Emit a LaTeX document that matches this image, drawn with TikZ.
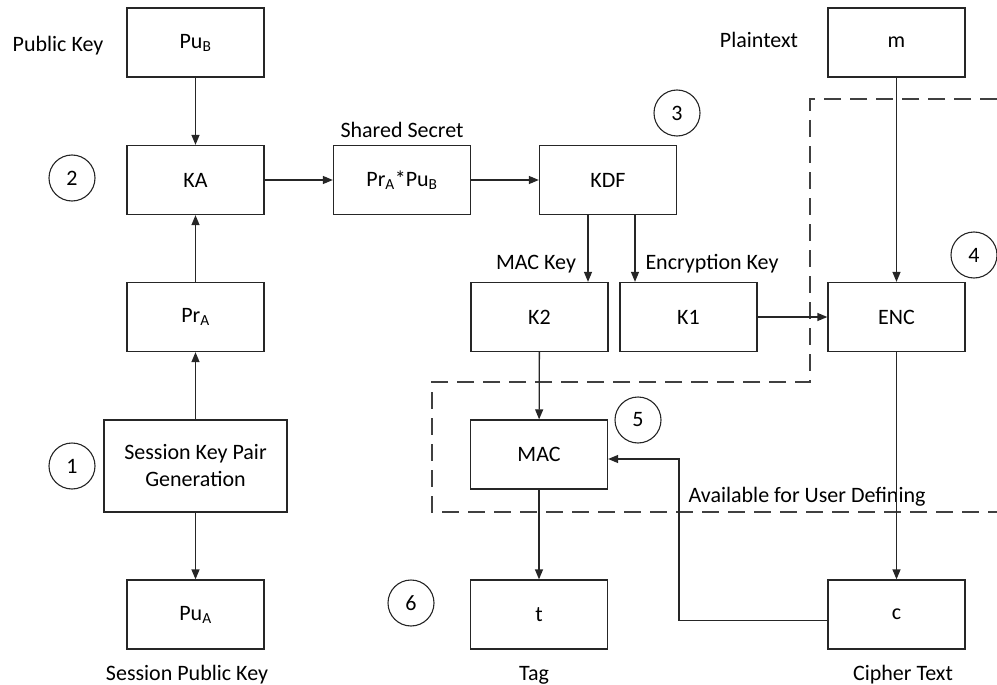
\documentclass[tikz,border=0pt]{standalone}
\usepackage{fontspec}
\setmainfont{Carlito}
\usetikzlibrary{arrows.meta}
\begin{document}
\begin{tikzpicture}[x=1pt,y=-1pt,
  box/.style={draw=black!85,line width=1.3pt,minimum width=137pt,minimum height=69pt,inner sep=0pt,align=center,font=\fontsize{22}{27}\selectfont},
  lbl/.style={inner sep=0pt,font=\fontsize{22}{27}\selectfont},
  num/.style={draw=black!85,line width=1.1pt,circle,minimum size=46pt,inner sep=0pt,font=\fontsize{22}{27}\selectfont},
  arr/.style={line width=1.3pt,draw=black!85,-{Triangle[length=10pt,width=8pt]}},
  dsh/.style={line width=1.3pt,draw=black!75,dash pattern=on 17pt off 9pt}]
\useasboundingbox (0,0) rectangle (997,685);

% boxes
\node[box] (pub) at (195.5,42.5) {Pu\textsubscript{B}};
\node[box] (ka)  at (195.5,180) {KA};
\node[box] (pra) at (195.5,317) {Pr\textsubscript{A}};
\node[box,minimum width=183pt,minimum height=92pt] (skg) at (195.5,466) {Session Key Pair\\Generation};
\node[box] (pua) at (195.5,614.5) {Pu\textsubscript{A}};
\node[box] (ss)  at (402,180) {Pr\textsubscript{A}*Pu\textsubscript{B}};
\node[box] (kdf) at (608,180) {KDF};
\node[box] (k2)  at (539.5,317) {K2};
\node[box] (k1)  at (688.5,317) {K1};
\node[box] (enc) at (896.5,317) {ENC};
\node[box] (m)   at (896.5,42.5) {m};
\node[box] (mac) at (539,454.5) {MAC};
\node[box] (t)   at (539,614.5) {t};
\node[box] (c)   at (896.5,614.5) {c};

% labels
\node[lbl] (lpk)  at (58,46) {Public Key};
\node[lbl] (lpt)  at (759,40) {Plaintext};
\node[lbl] (lss)  at (402,130) {Shared Secret};
\node[lbl] (lmk)  at (536,264) {MAC Key};
\node[lbl] (lek)  at (712,264) {Encryption Key};
\node[lbl] (lav)  at (807,497) {Available for User Defining};
\node[lbl] (lspk) at (187,675) {Session Public Key};
\node[lbl] (ltag) at (534,675) {Tag};
\node[lbl] (lct)  at (903,675) {Cipher Text};

% step numbers
\node[num] (n1) at (72,466) {1};
\node[num] (n2) at (72,178) {2};
\node[num] (n3) at (677,113) {3};
\node[num] (n4) at (974,255) {4};
\node[num] (n5) at (638,420) {5};
\node[num] (n6) at (411,603) {6};

% dashed region
\draw[dsh] (997,99) -- (810,99) -- (810,382) -- (432,382) -- (432,512) -- (997,512);

% connectors
\draw[arr] (pub) -- (ka);
\draw[arr] (pra) -- (ka);
\draw[arr] (skg) -- (pra);
\draw[arr] (skg) -- (pua);
\draw[arr] (ka) -- (ss);
\draw[arr] (ss) -- (kdf);
\draw[arr] ([xshift=-20pt]kdf.south) -- ([xshift=-20pt]kdf.south |- k2.north);
\draw[arr] ([xshift=27pt]kdf.south) -- ([xshift=27pt]kdf.south |- k1.north);
\draw[arr] (k1) -- (enc);
\draw[arr] (m) -- (enc);
\draw[arr] (k2) -- (mac);
\draw[arr] (mac) -- (t);
\draw[arr] (enc) -- (c);
\coordinate (bend) at (679,540);
\draw[arr] ([yshift=-6pt]c.west) -- ([yshift=-6pt]c.west -| bend) |- ([yshift=-4.5pt]mac.east);
\end{tikzpicture}
\end{document}
